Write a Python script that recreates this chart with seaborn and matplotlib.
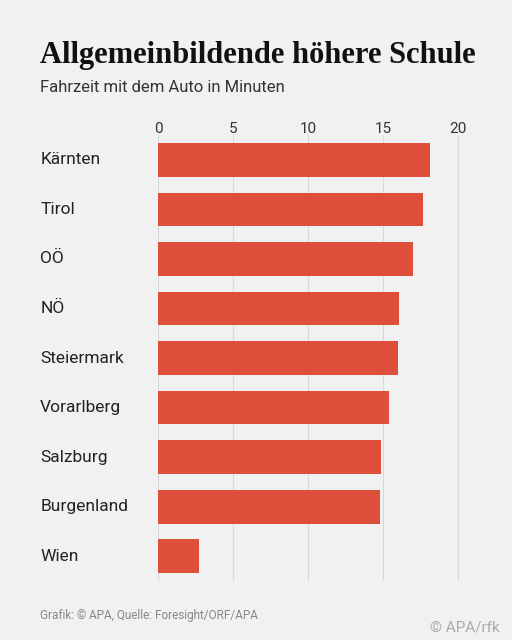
import matplotlib
matplotlib.use("Agg")
import matplotlib.pyplot as plt
import seaborn as sns
import pandas as pd

regions = ["Kärnten", "Tirol", "OÖ", "NÖ", "Steiermark", "Vorarlberg", "Salzburg", "Burgenland", "Wien"]
minutes = [18.15, 17.7, 17.0, 16.1, 16.0, 15.4, 14.85, 14.8, 2.7]
ticks = [0, 5, 10, 15, 20]

bg = "#f1f1f1"
sns.set_theme(style="white")
plt.rcParams['font.family'] = ['Roboto', 'DejaVu Sans']
fig = plt.figure(figsize=(5.12, 6.4), dpi=100, facecolor=bg)
ax = fig.add_axes([0.309, 0.092, 0.6, 0.697], facecolor=bg)
df = pd.DataFrame({"r": regions, "m": minutes})
sns.barplot(data=df, x="m", y="r", color="#dd4f3b", width=0.68, saturation=1, linewidth=0, ax=ax)
ax.set_xlim(0, 20.5)
ax.set_ylim(8.5, -0.5)
ax.set_xticks(ticks)
ax.xaxis.tick_top()
ax.tick_params(axis='x', length=0, labelsize=11, colors="#333333", pad=-1)
ax.set_xlabel(""); ax.set_ylabel("")
for t in ticks:
    ax.axvline(t, color="#d8d8d8", lw=0.8, zorder=0)
ax.set_axisbelow(True)
for s in ax.spines.values():
    s.set_visible(False)
ax.set_yticks(range(len(regions)))
ax.set_yticklabels([])
ax.tick_params(axis='y', length=0)
for i, r in enumerate(regions):
    ax.text(-0.384, i, r, transform=ax.get_yaxis_transform(), ha="left", va="center", fontsize=12.5, color="#222222")
fig.text(40/512, 1-55/640, "Allgemeinbildende höhere Schule", family=["Liberation Serif", "DejaVu Serif"], fontweight="bold", fontsize=22, color="#111111", va="center")
fig.text(40/512, 1-88/640, "Fahrzeit mit dem Auto in Minuten", fontsize=12, color="#333333", va="center")
fig.text(40/512, 1-615/640, "Grafik: © APA, Quelle: Foresight/ORF/APA", fontsize=8.5, color="#888888", va="center")
fig.text(500/512, 1-627/640, "© APA/rfk", fontsize=11, color="#aaaaaa", ha="right", va="center")
fig.savefig("out.png", facecolor=bg)
